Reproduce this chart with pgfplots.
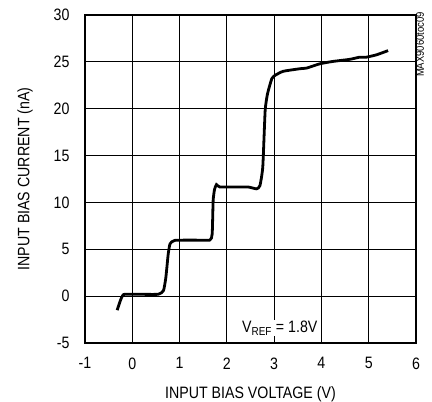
\documentclass[border=0pt]{standalone}
\usepackage{fontspec}
\setmainfont{Liberation Sans}[FakeStretch=0.86]
\usepackage{pgfplots}
\pgfplotsset{compat=1.18}
\usetikzlibrary{calc}

\begin{document}
\begin{tikzpicture}[font=\fontsize{16.5bp}{18bp}\selectfont]
\begin{axis}[
    scale only axis,
    width=331bp,
    height=328bp,
    xmin=-1, xmax=6,
    ymin=-5, ymax=30,
    xtick={-1,0,1,2,3,4,5,6},
    ytick={-5,0,5,10,15,20,25,30},
    grid=major,
    grid style={black, line width=0.9bp},
    major tick length=0pt,
    axis line style={line width=2.8bp},
    /pgf/number format/assume math mode=true,
    tick label style={font=\fontsize{16.5bp}{18bp}\selectfont},
    label style={font=\fontsize{16.5bp}{18bp}\selectfont},
    xticklabel style={yshift=-11bp},
    yticklabel style={xshift=-12bp},
    xlabel={INPUT BIAS VOLTAGE (V)},
    ylabel={INPUT BIAS CURRENT (nA)},
    xlabel style={yshift=-10bp},
    ylabel style={yshift=14bp},
    clip=false,
]
\coordinate (sw) at (rel axis cs:0,0);
\coordinate (ne) at (rel axis cs:1,1);
\addplot[black, line width=2.8bp, smooth, tension=0.3] coordinates {
    (-0.32,-1.5) (-0.25,-0.45) (-0.18,0.18) (0.1,0.2) (0.55,0.2)
    (0.66,0.6) (0.71,2.0) (0.76,4.5) (0.80,5.6) (0.90,5.95)
    (1.3,5.98) (1.64,5.98) (1.69,6.65) (1.71,10.2) (1.74,11.4)
    (1.78,11.9) (1.85,11.65) (2.2,11.65) (2.45,11.65) (2.63,11.45)
    (2.70,11.8) (2.76,13.8) (2.81,19.8) (2.86,21.6) (2.95,23.2)
    (3.02,23.56) (3.19,23.99) (3.55,24.27) (3.69,24.34) (3.97,24.8)
    (4.25,25.05) (4.6,25.27) (4.81,25.5) (4.95,25.5) (5.17,25.76)
    (5.41,26.2)
};
\node[fill=white, inner sep=1bp] at (axis cs:3.12,-3.4) {V\textsubscript{REF} = 1.8V};
\end{axis}
\node[rotate=90, anchor=north east, font=\fontsize{11bp}{12bp}\selectfont, inner sep=0pt,
    xshift=3bp] at (ne) {MAX9060toc09};
\pgfresetboundingbox
\path[use as bounding box] ($(sw)+(-85bp,-59bp)$) rectangle ($(sw)+(347bp,343bp)$);
\end{tikzpicture}
\end{document}
